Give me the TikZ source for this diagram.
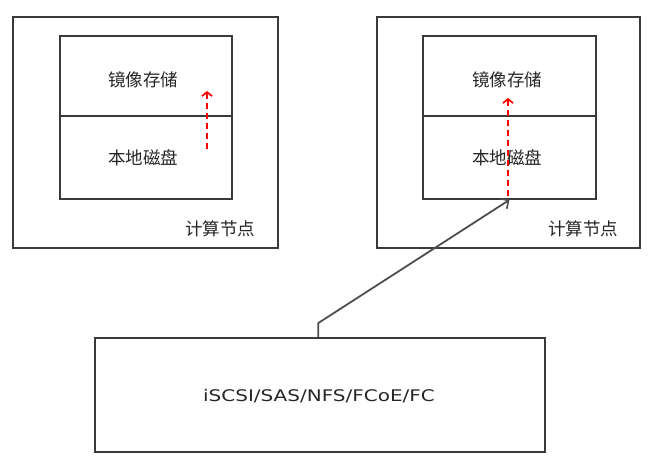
\documentclass[tikz,border=0pt]{standalone}
\usepackage{fontspec}
\newfontfamily\cjk{Noto Sans CJK SC}
\newfontfamily\latinf{DejaVu Sans}
\usetikzlibrary{arrows.meta}
\definecolor{linec}{HTML}{3a3a3a}
\begin{document}
\begin{tikzpicture}[x=1pt,y=-1pt,
  box/.style={draw=linec,line width=1.7pt,inner sep=0pt,anchor=center},
  lbl/.style={font=\cjk\fontsize{17.5}{17.5}\selectfont,text=black!85},
  redarrow/.style={draw=red,line width=1.9pt,dash pattern=on 6pt off 4pt,-{Straight Barb[length=4pt,width=10pt,line width=1.7pt]}},
  link/.style={draw=linec!90,line width=1.8pt,-{Straight Barb[length=6pt,width=12pt,line width=1.6pt]}}]
\useasboundingbox (0,0) rectangle (670,460);
% left compute node
\node[box,minimum width=265pt,minimum height=231pt] (L) at (145.5,132.5) {};
\node[box,minimum width=172pt,minimum height=80pt] (Lt) at (146,76) {};
\node[box,minimum width=172pt,minimum height=83pt] (Lb) at (146,157.5) {};
\node[lbl] (Lttext) at (143,80) {镜像存储};
\node[lbl] (Lbtext) at (143,158) {本地磁盘};
\node[lbl] (Ltag) at (220,229) {计算节点};
\coordinate (La) at (207,149);
\coordinate (Lz) at (207,91);
\draw[redarrow] (La) -- (Lz);
% right compute node
\node[box,minimum width=263pt,minimum height=231pt] (R) at (508.5,132.5) {};
\node[box,minimum width=173pt,minimum height=80pt] (Rt) at (509.5,76) {};
\node[box,minimum width=173pt,minimum height=83pt] (Rb) at (509.5,157.5) {};
\node[lbl] (Rttext) at (507,80) {镜像存储};
\node[lbl] (Rbtext) at (507,158) {本地磁盘};
\node[lbl] (Rtag) at (583,229) {计算节点};
\coordinate (Ra) at (508,196);
\coordinate (Rz) at (508,98);
\draw[redarrow] (Ra) -- (Rz);
% storage box
\node[box,minimum width=450pt,minimum height=114pt] (B) at (320,395) {};
\node[font=\latinf\fontsize{16}{16}\selectfont,text=black!85] (Btext) at (319,396) {\scalebox{1.25}[1]{iSCSI/SAS/NFS/FCoE/FC}};
\draw[link] ([xshift=224pt]B.north west) -- ++(0,-14) -- (Rb.south);
\end{tikzpicture}
\end{document}
